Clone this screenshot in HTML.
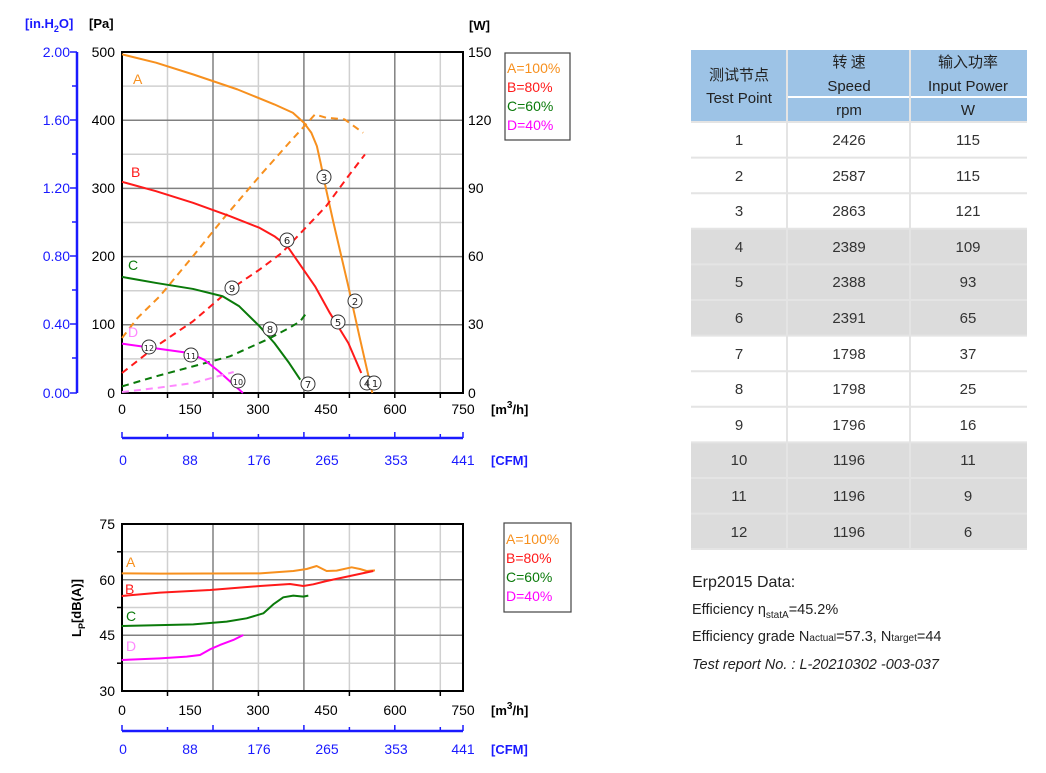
<!DOCTYPE html>
<html><head><meta charset="utf-8"><style>
body{margin:0;background:#fff;width:1046px;height:773px;overflow:hidden;position:relative;font-family:"Liberation Sans",sans-serif}
.t{position:absolute;font-family:"Liberation Sans","Noto Sans CJK SC",sans-serif;color:#222}
</style></head><body>
<svg width="1046" height="773" style="position:absolute;left:0;top:0" font-family="Liberation Sans, sans-serif">
<!-- TOP CHART grid -->
<g stroke="#d0d0d0" stroke-width="1.5">
<line x1="167.5" y1="52" x2="167.5" y2="393"/><line x1="258.4" y1="52" x2="258.4" y2="393"/><line x1="349.4" y1="52" x2="349.4" y2="393"/><line x1="440.3" y1="52" x2="440.3" y2="393"/>
<line x1="122" y1="86.1" x2="463" y2="86.1"/><line x1="122" y1="154.3" x2="463" y2="154.3"/><line x1="122" y1="222.5" x2="463" y2="222.5"/><line x1="122" y1="290.7" x2="463" y2="290.7"/><line x1="122" y1="358.9" x2="463" y2="358.9"/>
</g>
<g stroke="#808080" stroke-width="1.5">
<line x1="213" y1="52" x2="213" y2="393"/><line x1="303.9" y1="52" x2="303.9" y2="393"/><line x1="394.8" y1="52" x2="394.8" y2="393"/>
<line x1="122" y1="120.2" x2="463" y2="120.2"/><line x1="122" y1="188.4" x2="463" y2="188.4"/><line x1="122" y1="256.6" x2="463" y2="256.6"/><line x1="122" y1="324.8" x2="463" y2="324.8"/>
</g>
<rect x="122" y="52" width="341" height="341" fill="none" stroke="#000" stroke-width="2"/>
<g stroke="#000" stroke-width="1.5">
<line x1="167.5" y1="393" x2="167.5" y2="398"/><line x1="213" y1="393" x2="213" y2="398"/><line x1="258.4" y1="393" x2="258.4" y2="398"/><line x1="303.9" y1="393" x2="303.9" y2="398"/><line x1="349.4" y1="393" x2="349.4" y2="398"/><line x1="394.8" y1="393" x2="394.8" y2="398"/><line x1="440.3" y1="393" x2="440.3" y2="398"/>
</g>
<!-- left blue axis -->
<line x1="77" y1="52" x2="77" y2="393" stroke="#1a1aff" stroke-width="2.5"/>
<g stroke="#1a1aff" stroke-width="1.5">
<line x1="70" y1="52" x2="77" y2="52"/><line x1="72" y1="86" x2="77" y2="86"/><line x1="70" y1="120" x2="77" y2="120"/><line x1="72" y1="154" x2="77" y2="154"/><line x1="70" y1="188" x2="77" y2="188"/><line x1="72" y1="222" x2="77" y2="222"/><line x1="70" y1="256" x2="77" y2="256"/><line x1="72" y1="290" x2="77" y2="290"/><line x1="70" y1="324" x2="77" y2="324"/><line x1="72" y1="358" x2="77" y2="358"/><line x1="70" y1="393" x2="77" y2="393"/>
</g>
<g font-size="14" fill="#1a1aff" text-anchor="end">
<text x="70" y="57">2.00</text><text x="70" y="125">1.60</text><text x="70" y="193">1.20</text><text x="70" y="261">0.80</text><text x="70" y="329">0.40</text><text x="70" y="398">0.00</text>
</g>
<g font-size="14" fill="#000" text-anchor="end">
<text x="115" y="57">500</text><text x="115" y="125">400</text><text x="115" y="193">300</text><text x="115" y="261">200</text><text x="115" y="329">100</text><text x="115" y="398">0</text>
</g>
<g font-size="14" fill="#000">
<text x="468" y="57">150</text><text x="468" y="125">120</text><text x="468" y="193">90</text><text x="468" y="261">60</text><text x="468" y="329">30</text><text x="468" y="398">0</text>
</g>
<g font-size="14" fill="#000" text-anchor="middle">
<text x="122" y="414">0</text><text x="190" y="414">150</text><text x="258" y="414">300</text><text x="326" y="414">450</text><text x="395" y="414">600</text><text x="463" y="414">750</text>
</g>
<text x="491" y="414" font-size="13" font-weight="bold">[m<tspan dy="-6" font-size="10">3</tspan><tspan dy="6">/h]</tspan></text>
<text x="25" y="28" font-size="13" font-weight="bold" fill="#1a1aff">[in.H<tspan dy="4" font-size="9">2</tspan><tspan dy="-4">O]</tspan></text>
<text x="89" y="28" font-size="13" font-weight="bold">[Pa]</text>
<text x="469" y="30" font-size="13" font-weight="bold">[W]</text>
<!-- top CFM axis -->
<line x1="122" y1="438" x2="463" y2="438" stroke="#1a1aff" stroke-width="2.5"/>
<g stroke="#1a1aff" stroke-width="1.5">
<line x1="122" y1="432" x2="122" y2="438"/><line x1="167.5" y1="434" x2="167.5" y2="438"/><line x1="213" y1="432" x2="213" y2="438"/><line x1="258.4" y1="434" x2="258.4" y2="438"/><line x1="303.9" y1="432" x2="303.9" y2="438"/><line x1="349.4" y1="434" x2="349.4" y2="438"/><line x1="394.8" y1="432" x2="394.8" y2="438"/><line x1="440.3" y1="434" x2="440.3" y2="438"/><line x1="463" y1="432" x2="463" y2="438"/>
</g>
<g font-size="14" fill="#1a1aff" text-anchor="middle">
<text x="123" y="465">0</text><text x="190" y="465">88</text><text x="259" y="465">176</text><text x="327" y="465">265</text><text x="396" y="465">353</text><text x="463" y="465">441</text>
</g>
<text x="491" y="465" font-size="13" font-weight="bold" fill="#1a1aff">[CFM]</text>
<!-- curves top -->
<g transform="matrix(0.3698,0,0,0.3337,0.706,9.29)" fill="none" stroke-width="2" stroke-linejoin="round">
<path vector-effect="non-scaling-stroke" stroke="#f7901e" d="M328,135 L420,160 520,195 640,240 740,285 790,310 820,340 840,370 855,410 865,460 880,540 900,640 940,830 970,980 1005,1150"/>
<path vector-effect="non-scaling-stroke" stroke="#f7901e" stroke-dasharray="7,5" d="M328,985 L370,925 430,860 520,740 600,630 700,500 780,400 850,315 880,325 930,330 980,370"/>
<path vector-effect="non-scaling-stroke" stroke="#ff1a1a" d="M328,517 L420,545 520,580 620,620 700,655 740,680 775,710 800,750 850,830 890,910 940,1000 975,1090"/>
<path vector-effect="non-scaling-stroke" stroke="#ff1a1a" stroke-dasharray="7,5" d="M328,1090 L420,1010 520,935 620,840 700,780 760,730 820,660 880,590 940,500 985,435"/>
<path vector-effect="non-scaling-stroke" stroke="#0a7a0a" d="M328,802 L420,820 520,838 600,860 645,890 700,950 740,1000 780,1060 810,1110"/>
<path vector-effect="non-scaling-stroke" stroke="#0a7a0a" stroke-dasharray="7,5" d="M328,1130 L420,1100 520,1070 620,1040 720,990 780,955 810,935 830,905"/>
<path vector-effect="non-scaling-stroke" stroke="#ff00ff" d="M328,1002 L400,1013 510,1030 550,1050 590,1085 620,1115 655,1150"/>
<path vector-effect="non-scaling-stroke" stroke="#ff88ff" stroke-dasharray="7,5" d="M328,1147 L420,1135 520,1120 630,1087"/>
</g>
<g font-size="14">
<text x="133" y="84" fill="#f7901e">A</text><text x="131" y="177" fill="#ff1a1a">B</text><text x="128" y="270" fill="#0a7a0a">C</text><text x="128" y="337" fill="#ff88ff">D</text>
</g>
<g fill="#fff" stroke="#333" stroke-width="1">
<circle cx="324" cy="177" r="7"/><circle cx="287" cy="240" r="7"/><circle cx="232" cy="288" r="7"/><circle cx="355" cy="301" r="7"/><circle cx="338" cy="322" r="7"/><circle cx="270" cy="329" r="7"/><circle cx="149" cy="347" r="7"/><circle cx="191" cy="355" r="7"/><circle cx="238" cy="381" r="7"/><circle cx="308" cy="384" r="7"/><circle cx="367" cy="383" r="7"/><circle cx="374" cy="383" r="7"/>
</g>
<g font-size="10" fill="#222" text-anchor="middle" font-family="DejaVu Sans, sans-serif">
<text x="324" y="181">3</text><text x="287" y="244">6</text><text x="232" y="292">9</text><text x="355" y="305">2</text><text x="338" y="326">5</text><text x="270" y="333">8</text><text x="149" y="351" font-size="8">12</text><text x="191" y="359" font-size="8">11</text><text x="238" y="385" font-size="8">10</text><text x="308" y="388">7</text><text x="367" y="387">4</text><text x="375" y="387">1</text>
</g>
<rect x="505" y="53" width="65" height="87" fill="#fff" stroke="#444" stroke-width="1.2"/>
<g font-size="14">
<text x="507" y="73" fill="#f7901e">A=100%</text><text x="507" y="92" fill="#ff1a1a">B=80%</text><text x="507" y="111" fill="#0a7a0a">C=60%</text><text x="507" y="130" fill="#ff00ff">D=40%</text>
</g>

<!-- BOTTOM CHART -->
<g stroke="#d0d0d0" stroke-width="1.5">
<line x1="167.5" y1="524" x2="167.5" y2="691"/><line x1="258.4" y1="524" x2="258.4" y2="691"/><line x1="349.4" y1="524" x2="349.4" y2="691"/><line x1="440.3" y1="524" x2="440.3" y2="691"/>
<line x1="122" y1="551.8" x2="463" y2="551.8"/><line x1="122" y1="607.5" x2="463" y2="607.5"/><line x1="122" y1="663.2" x2="463" y2="663.2"/>
</g>
<g stroke="#808080" stroke-width="1.5">
<line x1="213" y1="524" x2="213" y2="691"/><line x1="303.9" y1="524" x2="303.9" y2="691"/><line x1="394.8" y1="524" x2="394.8" y2="691"/>
<line x1="122" y1="579.7" x2="463" y2="579.7"/><line x1="122" y1="635.3" x2="463" y2="635.3"/>
</g>
<rect x="122" y="524" width="341" height="167" fill="none" stroke="#000" stroke-width="2"/>
<g stroke="#000" stroke-width="1.5">
<line x1="117" y1="551.8" x2="122" y2="551.8"/><line x1="117" y1="607.5" x2="122" y2="607.5"/><line x1="117" y1="663.2" x2="122" y2="663.2"/>
<line x1="167.5" y1="691" x2="167.5" y2="696"/><line x1="258.4" y1="691" x2="258.4" y2="696"/><line x1="349.4" y1="691" x2="349.4" y2="696"/><line x1="440.3" y1="691" x2="440.3" y2="696"/>
</g>
<g font-size="14" text-anchor="end">
<text x="115" y="529">75</text><text x="115" y="585">60</text><text x="115" y="640">45</text><text x="115" y="696">30</text>
</g>
<text transform="translate(81,608) rotate(-90)" font-size="13" font-weight="bold" text-anchor="middle">L<tspan dy="4" font-size="9">P</tspan><tspan dy="-4">[dB(A)]</tspan></text>
<g font-size="14" text-anchor="middle">
<text x="122" y="715">0</text><text x="190" y="715">150</text><text x="258" y="715">300</text><text x="326" y="715">450</text><text x="395" y="715">600</text><text x="463" y="715">750</text>
</g>
<text x="491" y="715" font-size="13" font-weight="bold">[m<tspan dy="-6" font-size="10">3</tspan><tspan dy="6">/h]</tspan></text>
<line x1="122" y1="731" x2="463" y2="731" stroke="#1a1aff" stroke-width="2.5"/>
<g stroke="#1a1aff" stroke-width="1.5">
<line x1="122" y1="725" x2="122" y2="731"/><line x1="167.5" y1="727" x2="167.5" y2="731"/><line x1="213" y1="725" x2="213" y2="731"/><line x1="258.4" y1="727" x2="258.4" y2="731"/><line x1="303.9" y1="725" x2="303.9" y2="731"/><line x1="349.4" y1="727" x2="349.4" y2="731"/><line x1="394.8" y1="725" x2="394.8" y2="731"/><line x1="440.3" y1="727" x2="440.3" y2="731"/><line x1="463" y1="725" x2="463" y2="731"/>
</g>
<g font-size="14" fill="#1a1aff" text-anchor="middle">
<text x="123" y="754">0</text><text x="190" y="754">88</text><text x="259" y="754">176</text><text x="327" y="754">265</text><text x="396" y="754">353</text><text x="463" y="754">441</text>
</g>
<text x="491" y="754" font-size="13" font-weight="bold" fill="#1a1aff">[CFM]</text>
<g transform="translate(60,510) scale(0.3333)" fill="none" stroke-width="2" stroke-linejoin="round">
<path vector-effect="non-scaling-stroke" stroke="#f7901e" d="M185,190 L300,191 600,190 700,183 740,177 770,168 800,183 830,182 875,172 900,177 920,183 945,181"/>
<path vector-effect="non-scaling-stroke" stroke="#ff1a1a" d="M185,258 L300,248 450,240 600,228 690,222 710,225 730,228 760,223 800,213 870,198 940,183"/>
<path vector-effect="non-scaling-stroke" stroke="#0a7a0a" d="M185,348 L400,343 500,335 560,325 610,310 640,283 670,262 700,257 730,260 745,257"/>
<path vector-effect="non-scaling-stroke" stroke="#ff00ff" d="M185,450 L300,445 380,440 420,435 450,418 480,405 520,390 550,375"/>
</g>
<g font-size="14">
<text x="126" y="567" fill="#f7901e">A</text><text x="125" y="594" fill="#ff1a1a">B</text><text x="126" y="621" fill="#0a7a0a">C</text><text x="126" y="651" fill="#ff88ff">D</text>
</g>
<rect x="504" y="523" width="67" height="89" fill="#fff" stroke="#444" stroke-width="1.2"/>
<g font-size="14">
<text x="506" y="544" fill="#f7901e">A=100%</text><text x="506" y="563" fill="#ff1a1a">B=80%</text><text x="506" y="582" fill="#0a7a0a">C=60%</text><text x="506" y="601" fill="#ff00ff">D=40%</text>
</g>

<!-- TABLE -->
<g>
<rect x="691" y="50" width="95" height="71" fill="#9dc3e6"/>
<rect x="788" y="50" width="121" height="46" fill="#9dc3e6"/>
<rect x="911" y="50" width="116" height="46" fill="#9dc3e6"/>
<rect x="788" y="98" width="121" height="23" fill="#9dc3e6"/>
<rect x="911" y="98" width="116" height="23" fill="#9dc3e6"/>
<rect x="691" y="228" width="336" height="107" fill="#dcdcdc"/>
<rect x="691" y="442" width="336" height="107" fill="#dcdcdc"/>
<g stroke="#e4e4e4" stroke-width="2">
<line x1="691" y1="122" x2="1027" y2="122"/><line x1="691" y1="157.6" x2="1027" y2="157.6"/><line x1="691" y1="193.2" x2="1027" y2="193.2"/><line x1="691" y1="228.8" x2="1027" y2="228.8"/><line x1="691" y1="264.4" x2="1027" y2="264.4"/><line x1="691" y1="300" x2="1027" y2="300"/><line x1="691" y1="335.6" x2="1027" y2="335.6"/><line x1="691" y1="371.2" x2="1027" y2="371.2"/><line x1="691" y1="406.8" x2="1027" y2="406.8"/><line x1="691" y1="442.4" x2="1027" y2="442.4"/><line x1="691" y1="478" x2="1027" y2="478"/><line x1="691" y1="513.6" x2="1027" y2="513.6"/><line x1="691" y1="549" x2="1027" y2="549"/>
<line x1="787" y1="50" x2="787" y2="549"/><line x1="910" y1="50" x2="910" y2="549"/>
</g>
</g>
<g font-family="Liberation Sans, Noto Sans CJK SC, sans-serif" font-size="15" fill="#222" text-anchor="middle">
<text x="739" y="80" font-family="Noto Sans CJK SC, sans-serif">测试节点</text>
<text x="739" y="103">Test Point</text>
<text x="849" y="67" font-family="Noto Sans CJK SC, sans-serif">转 速</text>
<text x="849" y="91">Speed</text>
<text x="968" y="67" font-family="Noto Sans CJK SC, sans-serif">输入功率</text>
<text x="968" y="91">Input Power</text>
<text x="849" y="115">rpm</text>
<text x="968" y="115">W</text>
</g>
<g font-family="Liberation Sans, sans-serif" font-size="15" fill="#333" text-anchor="middle">
<text x="739" y="145">1</text><text x="849" y="145">2426</text><text x="968" y="145">115</text>
<text x="739" y="181">2</text><text x="849" y="181">2587</text><text x="968" y="181">115</text>
<text x="739" y="216">3</text><text x="849" y="216">2863</text><text x="968" y="216">121</text>
<text x="739" y="252">4</text><text x="849" y="252">2389</text><text x="968" y="252">109</text>
<text x="739" y="287">5</text><text x="849" y="287">2388</text><text x="968" y="287">93</text>
<text x="739" y="323">6</text><text x="849" y="323">2391</text><text x="968" y="323">65</text>
<text x="739" y="359">7</text><text x="849" y="359">1798</text><text x="968" y="359">37</text>
<text x="739" y="394">8</text><text x="849" y="394">1798</text><text x="968" y="394">25</text>
<text x="739" y="430">9</text><text x="849" y="430">1796</text><text x="968" y="430">16</text>
<text x="739" y="465">10</text><text x="849" y="465">1196</text><text x="968" y="465">11</text>
<text x="739" y="501">11</text><text x="849" y="501">1196</text><text x="968" y="501">9</text>
<text x="739" y="537">12</text><text x="849" y="537">1196</text><text x="968" y="537">6</text>
</g>
<g font-family="Liberation Sans, sans-serif" fill="#222">
<text x="692" y="587" font-size="16">Erp2015  Data:</text>
<text x="692" y="614" font-size="14.5">Efficiency η<tspan dy="4" font-size="10">statA</tspan><tspan dy="-4">=45.2%</tspan></text>
<text x="692" y="641" font-size="14.5">Efficiency grade  N<tspan font-size="10">actual</tspan>=57.3, N<tspan font-size="10">target</tspan>=44</text>
<text x="692" y="669" font-size="14.5" font-style="italic">Test report No. : L-20210302 -003-037</text>
</g>
</svg>
</body></html>
